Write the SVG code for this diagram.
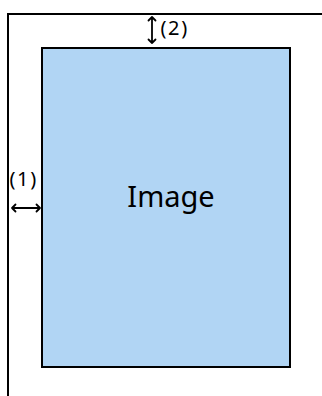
<svg xmlns="http://www.w3.org/2000/svg" width="322" height="396" viewBox="0 0 322 396">
<style>
.frame{fill:none;stroke:#000;stroke-width:2}
.lbl{font-family:"Noto Sans","Open Sans",sans-serif;fill:#000}
.num{font-size:20px;letter-spacing:1.6px}
.arr{fill:none;stroke:#000;stroke-width:1.8;stroke-linecap:round;stroke-linejoin:round}
</style>
<rect width="322" height="396" fill="#fff"/>
<g id="frame">
<path class="frame" d="M8,396 V14 H322"/>
</g>
<g id="image">
<rect x="42" y="48" width="248" height="319" fill="#b1d5f4" stroke="#000" stroke-width="2"/>
<text class="lbl" x="171" y="207" font-size="29" text-anchor="middle">Image</text>
</g>
<g id="connectors">
<path class="arr" d="M152,17 V43 M148.5,20.5 L152,17 L155.5,20.5 M148.5,39.5 L152,43 L155.5,39.5"/>
<path class="arr" d="M12,208 H40 M15.5,204.5 L12,208 L15.5,211.5 M36.5,204.5 L40,208 L36.5,211.5"/>
</g>
<g id="labels">
<text class="lbl num" x="160.5" y="34.5">(2)</text>
<text class="lbl num" x="9.5" y="185.5">(1)</text>
</g>
</svg>
